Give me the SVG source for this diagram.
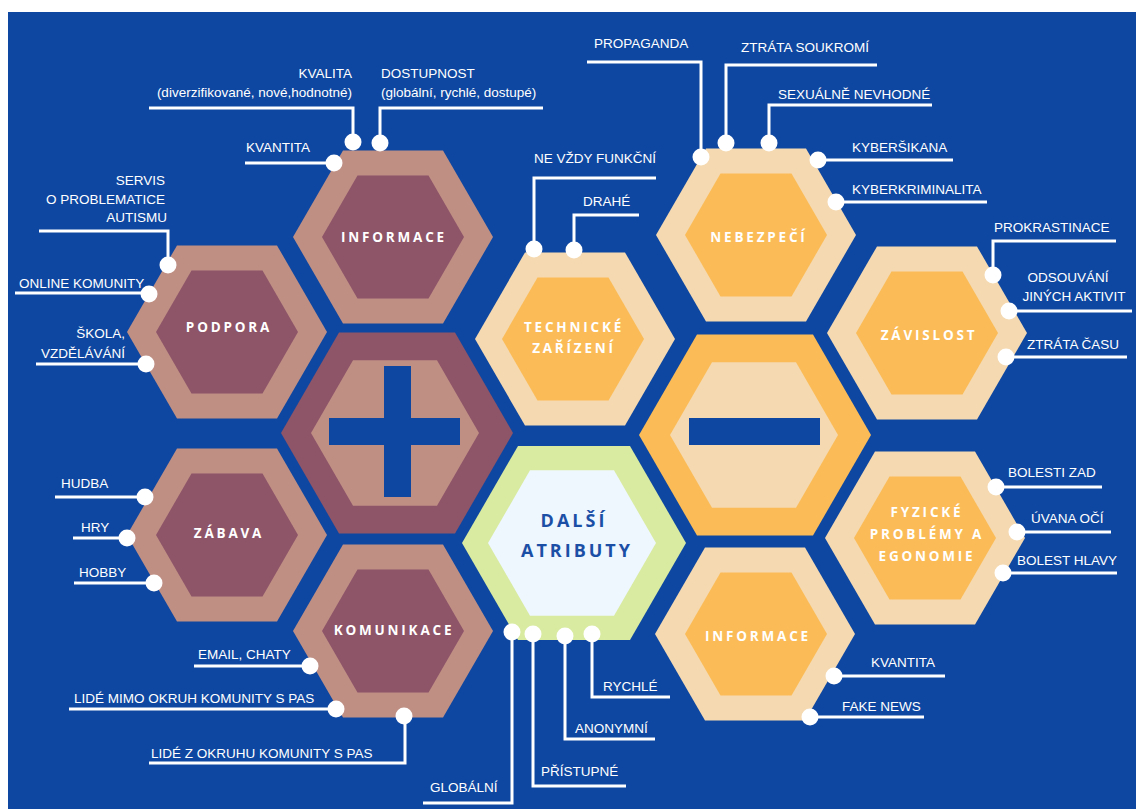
<svg xmlns="http://www.w3.org/2000/svg" xmlns:xlink="http://www.w3.org/1999/xlink" width="1136" height="809" viewBox="0 0 1136 809">
<style>
.bg{fill:#0E47A1}
.pk{fill:#BF8F84}
.pd{fill:#8E5468}
.ol{fill:#F5D9B0}
.od{fill:#FBBC57}
.gl{fill:#D9EBA0}
.gi{fill:#EEF6FE}
.bl{fill:#0E47A1}
.hl{font-family:"Open Sans","DejaVu Sans",sans-serif;font-weight:700;font-size:13.5px;letter-spacing:2.8px;fill:#FFFFFF;text-anchor:middle}
.hb{font-family:"Open Sans","DejaVu Sans",sans-serif;font-weight:700;font-size:18px;letter-spacing:3px;fill:#1B4FA6;text-anchor:middle}
.lb{font-family:"Liberation Sans",Arial,sans-serif;font-size:13.5px;fill:#FFFFFF}
.e{text-anchor:end}
.m{text-anchor:middle}
.cn polyline,.cn line{stroke:#FFFFFF;stroke-width:3;fill:none}
.cn circle{fill:#FFFFFF}
</style>
<defs>
<polygon id="hO" points="-100,0 -50,-86.6 50,-86.6 100,0 50,86.6 -50,86.6"/>
<polygon id="hI" points="-71,0 -35.5,-61.5 35.5,-61.5 71,0 35.5,61.5 -35.5,61.5"/>
<polygon id="bO" points="-116,0 -58,-100.5 58,-100.5 116,0 58,100.5 -58,100.5"/>
<polygon id="bI" points="-84,0 -42,-72.7 42,-72.7 84,0 42,72.7 -42,72.7"/>
<polygon id="dO" points="-112,0 -56,-97 56,-97 112,0 56,97 -56,97"/>
</defs>
<rect x="0" y="0" width="1136" height="809" fill="#FFFFFF"/>
<rect class="bg" x="8" y="12" width="1128" height="797"/>

<g id="informace-top">
<use xlink:href="#hO" x="393" y="237" class="pk"/>
<use xlink:href="#hI" x="393" y="237" class="pd"/>
<text class="hl" x="394" y="242">INFORMACE</text>
</g>
<g id="podpora">
<use xlink:href="#hO" x="227" y="332" class="pk"/>
<use xlink:href="#hI" x="227" y="332" class="pd"/>
<text class="hl" x="229" y="332">PODPORA</text>
</g>
<g id="zabava">
<use xlink:href="#hO" x="227" y="535" class="pk"/>
<use xlink:href="#hI" x="227" y="535" class="pd"/>
<text class="hl" x="229" y="538">ZÁBAVA</text>
</g>
<g id="komunikace">
<use xlink:href="#hO" x="393" y="631" class="pk"/>
<use xlink:href="#hI" x="393" y="631" class="pd"/>
<text class="hl" x="394" y="635">KOMUNIKACE</text>
</g>
<g id="plus">
<use xlink:href="#bO" x="397" y="433" class="pd"/>
<use xlink:href="#bI" x="395" y="433" class="pk"/>
<rect class="bl" x="384" y="366" width="27" height="131"/>
<rect class="bl" x="329" y="418" width="131" height="27"/>
</g>
<g id="technicke">
<use xlink:href="#hO" x="575" y="339" class="ol"/>
<use xlink:href="#hI" x="573" y="339" class="od"/>
<text class="hl" x="574" y="332">TECHNICKÉ</text>
<text class="hl" x="574" y="353">ZAŘÍZENÍ</text>
</g>
<g id="dalsi">
<use xlink:href="#dO" x="574" y="543" class="gl"/>
<use xlink:href="#bI" x="572" y="543" class="gi"/>
<text class="hb" x="574" y="527">DALŠÍ</text>
<text class="hb" x="577" y="557">ATRIBUTY</text>
</g>
<g id="nebezpeci">
<use xlink:href="#hO" x="756" y="235" class="ol"/>
<use xlink:href="#hI" x="756" y="235" class="od"/>
<text class="hl" x="759" y="242">NEBEZPEČÍ</text>
</g>
<g id="minus">
<use xlink:href="#bO" x="755" y="435" class="od"/>
<use xlink:href="#bI" x="754" y="435" class="ol"/>
<rect class="bl" x="689" y="418" width="131" height="27"/>
</g>
<g id="zavislost">
<use xlink:href="#hO" x="927" y="333" class="ol"/>
<use xlink:href="#hI" x="927" y="333" class="od"/>
<text class="hl" x="929" y="340">ZÁVISLOST</text>
</g>
<g id="fyzicke">
<use xlink:href="#hO" x="925" y="538" class="ol"/>
<use xlink:href="#hI" x="925" y="538" class="od"/>
<text class="hl" x="927" y="517">FYZICKÉ</text>
<text class="hl" x="927" y="539">PROBLÉMY A</text>
<text class="hl" x="927" y="561">EGONOMIE</text>
</g>
<g id="informace-bottom">
<use xlink:href="#hO" x="755" y="634" class="ol"/>
<use xlink:href="#hI" x="756" y="634" class="od"/>
<text class="hl" x="758" y="641">INFORMACE</text>
</g>

<g id="connectors" class="cn">
<polyline points="149,108 353,108 353,142"/><circle cx="353" cy="142" r="8.5"/>
<polyline points="543,108 380,108 380,143"/><circle cx="380" cy="143" r="8.5"/>
<line x1="245" y1="163" x2="334" y2="163"/><circle cx="334" cy="163" r="8.5"/>
<polyline points="39,231 168,231 168,265"/><circle cx="168" cy="265" r="8.5"/>
<line x1="15" y1="293" x2="149" y2="293"/><circle cx="149" cy="294" r="8.5"/>
<line x1="36" y1="364" x2="146" y2="364"/><circle cx="146" cy="364" r="8.5"/>
<line x1="55" y1="497" x2="145" y2="497"/><circle cx="145" cy="497" r="8.5"/>
<line x1="73" y1="538" x2="127" y2="538"/><circle cx="127" cy="538" r="8.5"/>
<line x1="74" y1="583" x2="154" y2="583"/><circle cx="154" cy="583" r="8.5"/>
<line x1="194" y1="666" x2="310" y2="666"/><circle cx="310" cy="666" r="8.5"/>
<line x1="69" y1="709" x2="336" y2="709"/><circle cx="336" cy="709" r="8.5"/>
<polyline points="149,763 405,763 405,716"/><circle cx="404" cy="716" r="8.5"/>
<polyline points="423,803 512,803 512,632"/><circle cx="512" cy="632" r="8.5"/>
<polyline points="533,634 533,786 626,786"/><circle cx="533" cy="634" r="8.5"/>
<polyline points="565,636 565,739 655,739"/><circle cx="565" cy="636" r="8.5"/>
<polyline points="592,634 592,697 670,697"/><circle cx="592" cy="634" r="8.5"/>
<polyline points="534,249 534,178 656,178"/><circle cx="534" cy="249" r="8.5"/>
<polyline points="574,250 574,215 639,215"/><circle cx="574" cy="250" r="8.5"/>
<polyline points="587,62 701,62 701,157"/><circle cx="701" cy="157" r="8.5"/>
<polyline points="726,143 726,65 877,65"/><circle cx="726" cy="143" r="8.5"/>
<polyline points="769,143 769,105 932,105"/><circle cx="769" cy="143" r="8.5"/>
<line x1="818" y1="160" x2="953" y2="160"/><circle cx="818" cy="160" r="8.5"/>
<line x1="836" y1="202" x2="987" y2="202"/><circle cx="836" cy="202" r="8.5"/>
<polyline points="993,275 993,241 1116,241"/><circle cx="993" cy="275" r="8.5"/>
<line x1="1009" y1="311" x2="1132" y2="311"/><circle cx="1009" cy="311" r="8.5"/>
<line x1="1006" y1="357" x2="1127" y2="357"/><circle cx="1006" cy="357" r="8.5"/>
<line x1="996" y1="487" x2="1102" y2="487"/><circle cx="996" cy="487" r="8.5"/>
<line x1="1017" y1="532" x2="1111" y2="532"/><circle cx="1017" cy="532" r="8.5"/>
<line x1="1003" y1="573" x2="1117" y2="573"/><circle cx="1003" cy="573" r="8.5"/>
<line x1="834" y1="676" x2="945" y2="676"/><circle cx="834" cy="676" r="8.5"/>
<line x1="810" y1="717" x2="924" y2="717"/><circle cx="810" cy="717" r="8.5"/>
</g>

<g id="labels" class="lb">
<text class="lb e" x="352" y="78">KVALITA</text>
<text class="lb e" x="352" y="97">(diverzifikované, nové,hodnotné)</text>
<text class="lb" x="381" y="78">DOSTUPNOST</text>
<text class="lb" x="381" y="97">(globální, rychlé, dostupé)</text>
<text class="lb" x="246" y="152">KVANTITA</text>
<text class="lb e" x="165" y="185">SERVIS</text>
<text class="lb e" x="165" y="204">O PROBLEMATICE</text>
<text class="lb e" x="167" y="222">AUTISMU</text>
<text class="lb" x="19" y="288">ONLINE KOMUNITY</text>
<text class="lb e" x="125" y="338">ŠKOLA,</text>
<text class="lb e" x="125" y="358">VZDĚLÁVÁNÍ</text>
<text class="lb" x="61" y="488">HUDBA</text>
<text class="lb" x="81" y="532">HRY</text>
<text class="lb" x="79" y="577">HOBBY</text>
<text class="lb" x="198" y="659">EMAIL, CHATY</text>
<text class="lb" x="74" y="703">LIDÉ MIMO OKRUH KOMUNITY S PAS</text>
<text class="lb" x="151" y="758">LIDÉ Z OKRUHU KOMUNITY S PAS</text>
<text class="lb" x="430" y="792">GLOBÁLNÍ</text>
<text class="lb" x="541" y="776">PŘÍSTUPNÉ</text>
<text class="lb" x="575" y="733">ANONYMNÍ</text>
<text class="lb" x="603" y="691">RYCHLÉ</text>
<text class="lb" x="534" y="163">NE VŽDY FUNKČNÍ</text>
<text class="lb" x="583" y="206">DRAHÉ</text>
<text class="lb" x="594" y="48">PROPAGANDA</text>
<text class="lb" x="741" y="52">ZTRÁTA SOUKROMÍ</text>
<text class="lb" x="778" y="99">SEXUÁLNĚ NEVHODNÉ</text>
<text class="lb" x="852" y="152">KYBERŠIKANA</text>
<text class="lb" x="852" y="194">KYBERKRIMINALITA</text>
<text class="lb" x="994" y="232">PROKRASTINACE</text>
<text class="lb m" x="1068" y="282">ODSOUVÁNÍ</text>
<text class="lb m" x="1074" y="301">JINÝCH AKTIVIT</text>
<text class="lb" x="1027" y="349">ZTRÁTA ČASU</text>
<text class="lb" x="1008" y="477">BOLESTI ZAD</text>
<text class="lb" x="1031" y="523">ÚVANA OČÍ</text>
<text class="lb" x="1017" y="565">BOLEST HLAVY</text>
<text class="lb" x="871" y="667">KVANTITA</text>
<text class="lb" x="842" y="711">FAKE NEWS</text>
</g>
</svg>
